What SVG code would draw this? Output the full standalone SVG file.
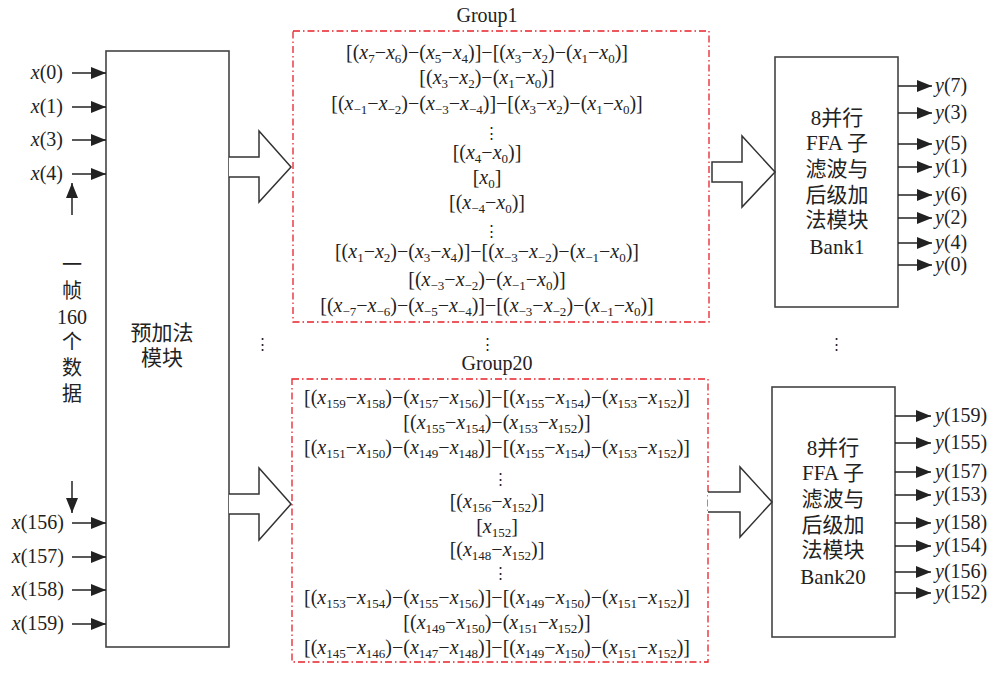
<svg xmlns="http://www.w3.org/2000/svg" width="997" height="673" viewBox="0 0 997 673">
<style>
text{font-family:"Liberation Serif","Noto Sans CJK SC",serif;font-size:20px;fill:#222}
.c{text-anchor:middle}
.e{text-anchor:end}
.i{font-style:italic}
.s{font-size:13px;baseline-shift:-4px}
.cj{font-size:21px}
.box{fill:#fff;stroke:#444;stroke-width:1.6}
.grp{fill:none;stroke:#e8202a;stroke-width:1.3;stroke-dasharray:7 3 1.5 3}
.ln{stroke:#222;stroke-width:1.5;fill:none}
.ha{fill:#fff;stroke:#333;stroke-width:1.5;stroke-linejoin:miter}
.dots{font-family:"DejaVu Serif",serif;font-size:15px;text-anchor:middle}
</style>
<defs>
<marker id="ah" markerUnits="userSpaceOnUse" markerWidth="15" markerHeight="12" refX="15" refY="6" orient="auto">
<path d="M0,0 L15,6 L0,12 z" fill="#222"/>
</marker>
</defs>

<g id="preadd">
<rect class="box" x="106" y="51" width="123" height="596"/>
<text class="c cj" x="162" y="340">预加法</text>
<text class="c cj" x="162" y="365">模块</text>
</g>

<g id="inputs-label">
<text class="c" x="72" y="272">一</text>
<text class="c" x="72" y="298">帧</text>
<text class="c" x="72" y="324">160</text>
<text class="c" x="72" y="349">个</text>
<text class="c" x="72" y="375">数</text>
<text class="c" x="72" y="401">据</text>
</g>

<g id="input-texts">
<text class="e" x="63" y="79"><tspan class="i">x</tspan>(0)</text>
<text class="e" x="63" y="113"><tspan class="i">x</tspan>(1)</text>
<text class="e" x="63" y="146"><tspan class="i">x</tspan>(3)</text>
<text class="e" x="63" y="180"><tspan class="i">x</tspan>(4)</text>
<text class="e" x="64" y="529"><tspan class="i">x</tspan>(156)</text>
<text class="e" x="64" y="563"><tspan class="i">x</tspan>(157)</text>
<text class="e" x="64" y="596"><tspan class="i">x</tspan>(158)</text>
<text class="e" x="64" y="630"><tspan class="i">x</tspan>(159)</text>
</g>

<g id="group1">
<text class="c" x="487" y="22">Group1</text>
<rect class="grp" x="293" y="31" width="416" height="291"/>
<text class="c" x="487" y="59">[(<tspan class="i">x</tspan><tspan class="s">7</tspan>−<tspan class="i">x</tspan><tspan class="s">6</tspan>)−(<tspan class="i">x</tspan><tspan class="s">5</tspan>−<tspan class="i">x</tspan><tspan class="s">4</tspan>)]−[(<tspan class="i">x</tspan><tspan class="s">3</tspan>−<tspan class="i">x</tspan><tspan class="s">2</tspan>)−(<tspan class="i">x</tspan><tspan class="s">1</tspan>−<tspan class="i">x</tspan><tspan class="s">0</tspan>)]</text>
<text class="c" x="487" y="84">[(<tspan class="i">x</tspan><tspan class="s">3</tspan>−<tspan class="i">x</tspan><tspan class="s">2</tspan>)−(<tspan class="i">x</tspan><tspan class="s">1</tspan>−<tspan class="i">x</tspan><tspan class="s">0</tspan>)]</text>
<text class="c" x="487" y="110">[(<tspan class="i">x</tspan><tspan class="s">−1</tspan>−<tspan class="i">x</tspan><tspan class="s">−2</tspan>)−(<tspan class="i">x</tspan><tspan class="s">−3</tspan>−<tspan class="i">x</tspan><tspan class="s">−4</tspan>)]−[(<tspan class="i">x</tspan><tspan class="s">3</tspan>−<tspan class="i">x</tspan><tspan class="s">2</tspan>)−(<tspan class="i">x</tspan><tspan class="s">1</tspan>−<tspan class="i">x</tspan><tspan class="s">0</tspan>)]</text>
<text class="dots" x="491" y="138">⋮</text>
<text class="c" x="487" y="159">[(<tspan class="i">x</tspan><tspan class="s">4</tspan>−<tspan class="i">x</tspan><tspan class="s">0</tspan>)]</text>
<text class="c" x="487" y="184">[<tspan class="i">x</tspan><tspan class="s">0</tspan>]</text>
<text class="c" x="487" y="209">[(<tspan class="i">x</tspan><tspan class="s">−4</tspan>−<tspan class="i">x</tspan><tspan class="s">0</tspan>)]</text>
<text class="dots" x="491" y="236">⋮</text>
<text class="c" x="487" y="258">[(<tspan class="i">x</tspan><tspan class="s">1</tspan>−<tspan class="i">x</tspan><tspan class="s">2</tspan>)−(<tspan class="i">x</tspan><tspan class="s">3</tspan>−<tspan class="i">x</tspan><tspan class="s">4</tspan>)]−[(<tspan class="i">x</tspan><tspan class="s">−3</tspan>−<tspan class="i">x</tspan><tspan class="s">−2</tspan>)−(<tspan class="i">x</tspan><tspan class="s">−1</tspan>−<tspan class="i">x</tspan><tspan class="s">0</tspan>)]</text>
<text class="c" x="487" y="286">[(<tspan class="i">x</tspan><tspan class="s">−3</tspan>−<tspan class="i">x</tspan><tspan class="s">−2</tspan>)−(<tspan class="i">x</tspan><tspan class="s">−1</tspan>−<tspan class="i">x</tspan><tspan class="s">0</tspan>)]</text>
<text class="c" x="487" y="312">[(<tspan class="i">x</tspan><tspan class="s">−7</tspan>−<tspan class="i">x</tspan><tspan class="s">−6</tspan>)−(<tspan class="i">x</tspan><tspan class="s">−5</tspan>−<tspan class="i">x</tspan><tspan class="s">−4</tspan>)]−[(<tspan class="i">x</tspan><tspan class="s">−3</tspan>−<tspan class="i">x</tspan><tspan class="s">−2</tspan>)−(<tspan class="i">x</tspan><tspan class="s">−1</tspan>−<tspan class="i">x</tspan><tspan class="s">0</tspan>)]</text>
</g>

<g id="group20">
<text class="c" x="497" y="370">Group20</text>
<rect class="grp" x="292" y="379" width="416" height="283"/>
<text class="c" x="497" y="404">[(<tspan class="i">x</tspan><tspan class="s">159</tspan>−<tspan class="i">x</tspan><tspan class="s">158</tspan>)−(<tspan class="i">x</tspan><tspan class="s">157</tspan>−<tspan class="i">x</tspan><tspan class="s">156</tspan>)]−[(<tspan class="i">x</tspan><tspan class="s">155</tspan>−<tspan class="i">x</tspan><tspan class="s">154</tspan>)−(<tspan class="i">x</tspan><tspan class="s">153</tspan>−<tspan class="i">x</tspan><tspan class="s">152</tspan>)]</text>
<text class="c" x="497" y="429">[(<tspan class="i">x</tspan><tspan class="s">155</tspan>−<tspan class="i">x</tspan><tspan class="s">154</tspan>)−(<tspan class="i">x</tspan><tspan class="s">153</tspan>−<tspan class="i">x</tspan><tspan class="s">152</tspan>)]</text>
<text class="c" x="497" y="454">[(<tspan class="i">x</tspan><tspan class="s">151</tspan>−<tspan class="i">x</tspan><tspan class="s">150</tspan>)−(<tspan class="i">x</tspan><tspan class="s">149</tspan>−<tspan class="i">x</tspan><tspan class="s">148</tspan>)]−[(<tspan class="i">x</tspan><tspan class="s">155</tspan>−<tspan class="i">x</tspan><tspan class="s">154</tspan>)−(<tspan class="i">x</tspan><tspan class="s">153</tspan>−<tspan class="i">x</tspan><tspan class="s">152</tspan>)]</text>
<text class="dots" x="500" y="484">⋮</text>
<text class="c" x="497" y="508">[(<tspan class="i">x</tspan><tspan class="s">156</tspan>−<tspan class="i">x</tspan><tspan class="s">152</tspan>)]</text>
<text class="c" x="497" y="533">[<tspan class="i">x</tspan><tspan class="s">152</tspan>]</text>
<text class="c" x="497" y="556">[(<tspan class="i">x</tspan><tspan class="s">148</tspan>−<tspan class="i">x</tspan><tspan class="s">152</tspan>)]</text>
<text class="dots" x="500" y="578">⋮</text>
<text class="c" x="497" y="604">[(<tspan class="i">x</tspan><tspan class="s">153</tspan>−<tspan class="i">x</tspan><tspan class="s">154</tspan>)−(<tspan class="i">x</tspan><tspan class="s">155</tspan>−<tspan class="i">x</tspan><tspan class="s">156</tspan>)]−[(<tspan class="i">x</tspan><tspan class="s">149</tspan>−<tspan class="i">x</tspan><tspan class="s">150</tspan>)−(<tspan class="i">x</tspan><tspan class="s">151</tspan>−<tspan class="i">x</tspan><tspan class="s">152</tspan>)]</text>
<text class="c" x="497" y="629">[(<tspan class="i">x</tspan><tspan class="s">149</tspan>−<tspan class="i">x</tspan><tspan class="s">150</tspan>)−(<tspan class="i">x</tspan><tspan class="s">151</tspan>−<tspan class="i">x</tspan><tspan class="s">152</tspan>)]</text>
<text class="c" x="497" y="654">[(<tspan class="i">x</tspan><tspan class="s">145</tspan>−<tspan class="i">x</tspan><tspan class="s">146</tspan>)−(<tspan class="i">x</tspan><tspan class="s">147</tspan>−<tspan class="i">x</tspan><tspan class="s">148</tspan>)]−[(<tspan class="i">x</tspan><tspan class="s">149</tspan>−<tspan class="i">x</tspan><tspan class="s">150</tspan>)−(<tspan class="i">x</tspan><tspan class="s">151</tspan>−<tspan class="i">x</tspan><tspan class="s">152</tspan>)]</text>
</g>

<g id="bank1">
<rect class="box" x="775" y="57" width="123" height="250"/>
<text class="c cj" x="837" y="125">8并行</text>
<text class="c cj" x="837" y="150">FFA 子</text>
<text class="c cj" x="837" y="176">滤波与</text>
<text class="c cj" x="837" y="202">后级加</text>
<text class="c cj" x="837" y="227">法模块</text>
<text class="c cj" x="837" y="254">Bank1</text>
</g>

<g id="bank20">
<rect class="box" x="772" y="387" width="123" height="250"/>
<text class="c cj" x="833" y="455">8并行</text>
<text class="c cj" x="833" y="480">FFA 子</text>
<text class="c cj" x="833" y="506">滤波与</text>
<text class="c cj" x="833" y="532">后级加</text>
<text class="c cj" x="833" y="557">法模块</text>
<text class="c cj" x="833" y="584">Bank20</text>
</g>

<g id="outputs1">
<text x="935" y="92"><tspan class="i">y</tspan>(7)</text>
<text x="935" y="119"><tspan class="i">y</tspan>(3)</text>
<text x="935" y="150"><tspan class="i">y</tspan>(5)</text>
<text x="935" y="173"><tspan class="i">y</tspan>(1)</text>
<text x="935" y="201"><tspan class="i">y</tspan>(6)</text>
<text x="935" y="224"><tspan class="i">y</tspan>(2)</text>
<text x="935" y="249"><tspan class="i">y</tspan>(4)</text>
<text x="935" y="271"><tspan class="i">y</tspan>(0)</text>
</g>

<g id="outputs20">
<text x="935" y="422"><tspan class="i">y</tspan>(159)</text>
<text x="935" y="449"><tspan class="i">y</tspan>(155)</text>
<text x="935" y="478"><tspan class="i">y</tspan>(157)</text>
<text x="935" y="501"><tspan class="i">y</tspan>(153)</text>
<text x="935" y="529"><tspan class="i">y</tspan>(158)</text>
<text x="935" y="552"><tspan class="i">y</tspan>(154)</text>
<text x="935" y="578"><tspan class="i">y</tspan>(156)</text>
<text x="935" y="599"><tspan class="i">y</tspan>(152)</text>
</g>

<g id="ellipses">
<text class="dots" x="262" y="349">⋮</text>
<text class="dots" x="487" y="349">⋮</text>
<text class="dots" x="836" y="349">⋮</text>
</g>

<g id="connectors">
<line class="ln" x1="72" y1="73" x2="106" y2="73" marker-end="url(#ah)"/>
<line class="ln" x1="72" y1="107" x2="106" y2="107" marker-end="url(#ah)"/>
<line class="ln" x1="72" y1="140" x2="106" y2="140" marker-end="url(#ah)"/>
<line class="ln" x1="72" y1="174" x2="106" y2="174" marker-end="url(#ah)"/>
<line class="ln" x1="72" y1="523" x2="106" y2="523" marker-end="url(#ah)"/>
<line class="ln" x1="72" y1="557" x2="106" y2="557" marker-end="url(#ah)"/>
<line class="ln" x1="72" y1="590" x2="106" y2="590" marker-end="url(#ah)"/>
<line class="ln" x1="72" y1="624" x2="106" y2="624" marker-end="url(#ah)"/>
<line class="ln" x1="72" y1="215" x2="72" y2="183" marker-end="url(#ah)"/>
<line class="ln" x1="72" y1="481" x2="72" y2="513" marker-end="url(#ah)"/>

<path class="ha" d="M229,157 H259 V131 L291,167 L259,202 V177 H229"/>
<path class="ha" d="M229,494 H259 V468 L291,504 L259,540 V514 H229"/>
<path class="ha" d="M712,162 H742 V136 L775,172 L742,207 V182 H712 Z"/>
<path class="ha" d="M708,492 H740 V467 L772,502 L740,537 V512 H708"/>

<line class="ln" x1="898" y1="86" x2="932" y2="86" marker-end="url(#ah)"/>
<line class="ln" x1="898" y1="113" x2="932" y2="113" marker-end="url(#ah)"/>
<line class="ln" x1="898" y1="144" x2="932" y2="144" marker-end="url(#ah)"/>
<line class="ln" x1="898" y1="167" x2="932" y2="167" marker-end="url(#ah)"/>
<line class="ln" x1="898" y1="195" x2="932" y2="195" marker-end="url(#ah)"/>
<line class="ln" x1="898" y1="218" x2="932" y2="218" marker-end="url(#ah)"/>
<line class="ln" x1="898" y1="243" x2="932" y2="243" marker-end="url(#ah)"/>
<line class="ln" x1="898" y1="265" x2="932" y2="265" marker-end="url(#ah)"/>

<line class="ln" x1="895" y1="416" x2="931" y2="416" marker-end="url(#ah)"/>
<line class="ln" x1="895" y1="443" x2="931" y2="443" marker-end="url(#ah)"/>
<line class="ln" x1="895" y1="472" x2="931" y2="472" marker-end="url(#ah)"/>
<line class="ln" x1="895" y1="495" x2="931" y2="495" marker-end="url(#ah)"/>
<line class="ln" x1="895" y1="523" x2="931" y2="523" marker-end="url(#ah)"/>
<line class="ln" x1="895" y1="546" x2="931" y2="546" marker-end="url(#ah)"/>
<line class="ln" x1="895" y1="572" x2="931" y2="572" marker-end="url(#ah)"/>
<line class="ln" x1="895" y1="593" x2="931" y2="593" marker-end="url(#ah)"/>
</g>
</svg>
